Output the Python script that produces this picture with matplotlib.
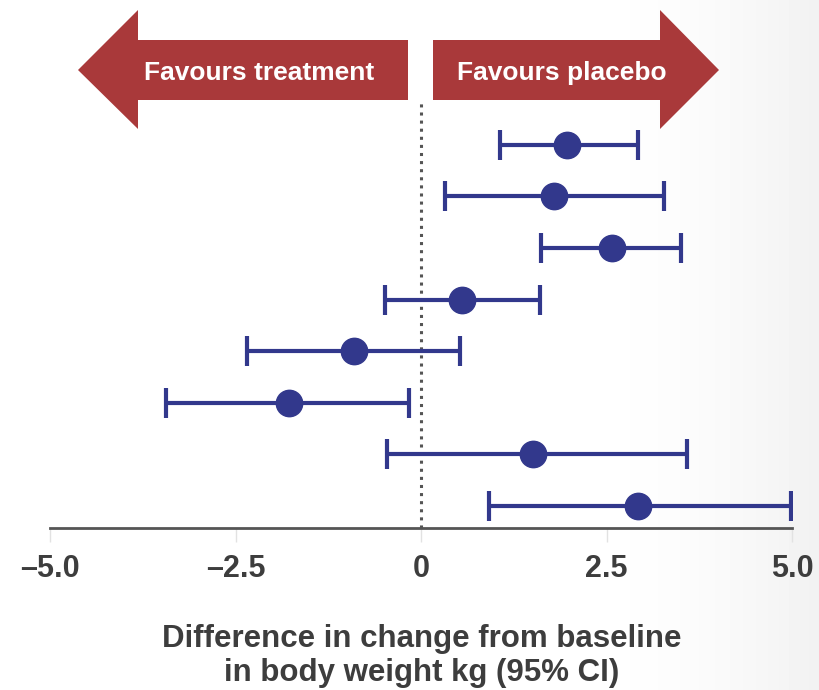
import matplotlib
matplotlib.use("Agg")
import numpy as np
import matplotlib.pyplot as plt
from matplotlib.patches import Polygon
from matplotlib.transforms import Affine2D

# ---- data
estimate = [1.97, 1.79, 2.57, 0.55, -0.90, -1.78, 1.51, 2.93]
ci_low = [1.06, 0.32, 1.62, -0.48, -2.34, -3.43, -0.46, 0.92]
ci_high = [2.92, 3.28, 3.51, 1.60, 0.53, -0.16, 3.59, 4.99]
tick_values = [-5.0, -2.5, 0, 2.5, 5.0]
tick_labels = ["\u20135.0", "\u20132.5", "0", "2.5", "5.0"]
arrow_labels = ["Favours treatment", "Favours placebo"]
xlabel_lines = ["Difference in change from baseline", "in body weight kg (95% CI)"]

W, H = 819, 690
navy = "#32388c"
red = "#a9393a"
grey = "#555555"
textc = "#3d3d3d"

plt.rcParams["font.family"] = ["Liberation Sans", "DejaVu Sans"]

fig = plt.figure(figsize=(W / 100, H / 100), dpi=100)
# pixel coordinates, origin top-left
px = Affine2D().scale(1 / W, -1 / H).translate(0, 1) + fig.transFigure

# faint slide background shading on the right
bg = fig.add_axes([0, 0, 1, 1], zorder=-5)
grad = np.clip((np.arange(W) - 560) / (W - 560), 0, 1) ** 2
bg.imshow(1 - 0.055 * grad[None, :], cmap="gray", vmin=0, vmax=1,
          aspect="auto", extent=[0, 1, 0, 1])
bg.set_axis_off()

ax = fig.add_axes([50 / W, 1 - 528 / H, 742 / W, 528 / H])
ax.patch.set_alpha(0)

rows = list(range(len(estimate)))
lo_err = [e - l for e, l in zip(estimate, ci_low)]
hi_err = [h - e for e, h in zip(estimate, ci_high)]
ax.errorbar(estimate, rows, xerr=[lo_err, hi_err], fmt="o", color=navy,
            ms=19, lw=3, capsize=11, capthick=3, zorder=3)

ax.axvline(0, ymin=0, ymax=1 - 103 / 528, color=grey, ls=":", lw=2.2, zorder=1)

ax.set_xlim(-5, 5)
ax.set_ylim(7.43, -2.81)
for s in ["top", "left", "right"]:
    ax.spines[s].set_visible(False)
ax.spines["bottom"].set_color(grey)
ax.spines["bottom"].set_linewidth(2)
ax.set_yticks([])
ax.set_xticks(tick_values)
ax.set_xticklabels(tick_labels, fontsize=22, fontweight="bold", color=textc)
ax.tick_params(axis="x", length=10, width=1, color="#e2e2e2", pad=9)

# direction arrows
left_arrow = [(78, 70), (138, 10), (138, 40), (408, 40), (408, 100), (138, 100), (138, 129)]
right_arrow = [(719, 70), (660, 10), (660, 40), (433, 40), (433, 100), (660, 100), (660, 129)]
for pts in (left_arrow, right_arrow):
    fig.patches.append(Polygon(pts, closed=True, transform=px, facecolor=red,
                               edgecolor="none"))
fig.text(259, 80, arrow_labels[0], transform=px, ha="center", va="baseline",
         fontsize=19, fontweight="bold", color="white")
fig.text(562, 80, arrow_labels[1], transform=px, ha="center", va="baseline",
         fontsize=19, fontweight="bold", color="white")

for line, base in zip(xlabel_lines, [647, 681]):
    fig.text(422, base, line, transform=px, ha="center", va="baseline",
             fontsize=22.5, fontweight="bold", color=textc)

fig.savefig("out.png", dpi=100)
